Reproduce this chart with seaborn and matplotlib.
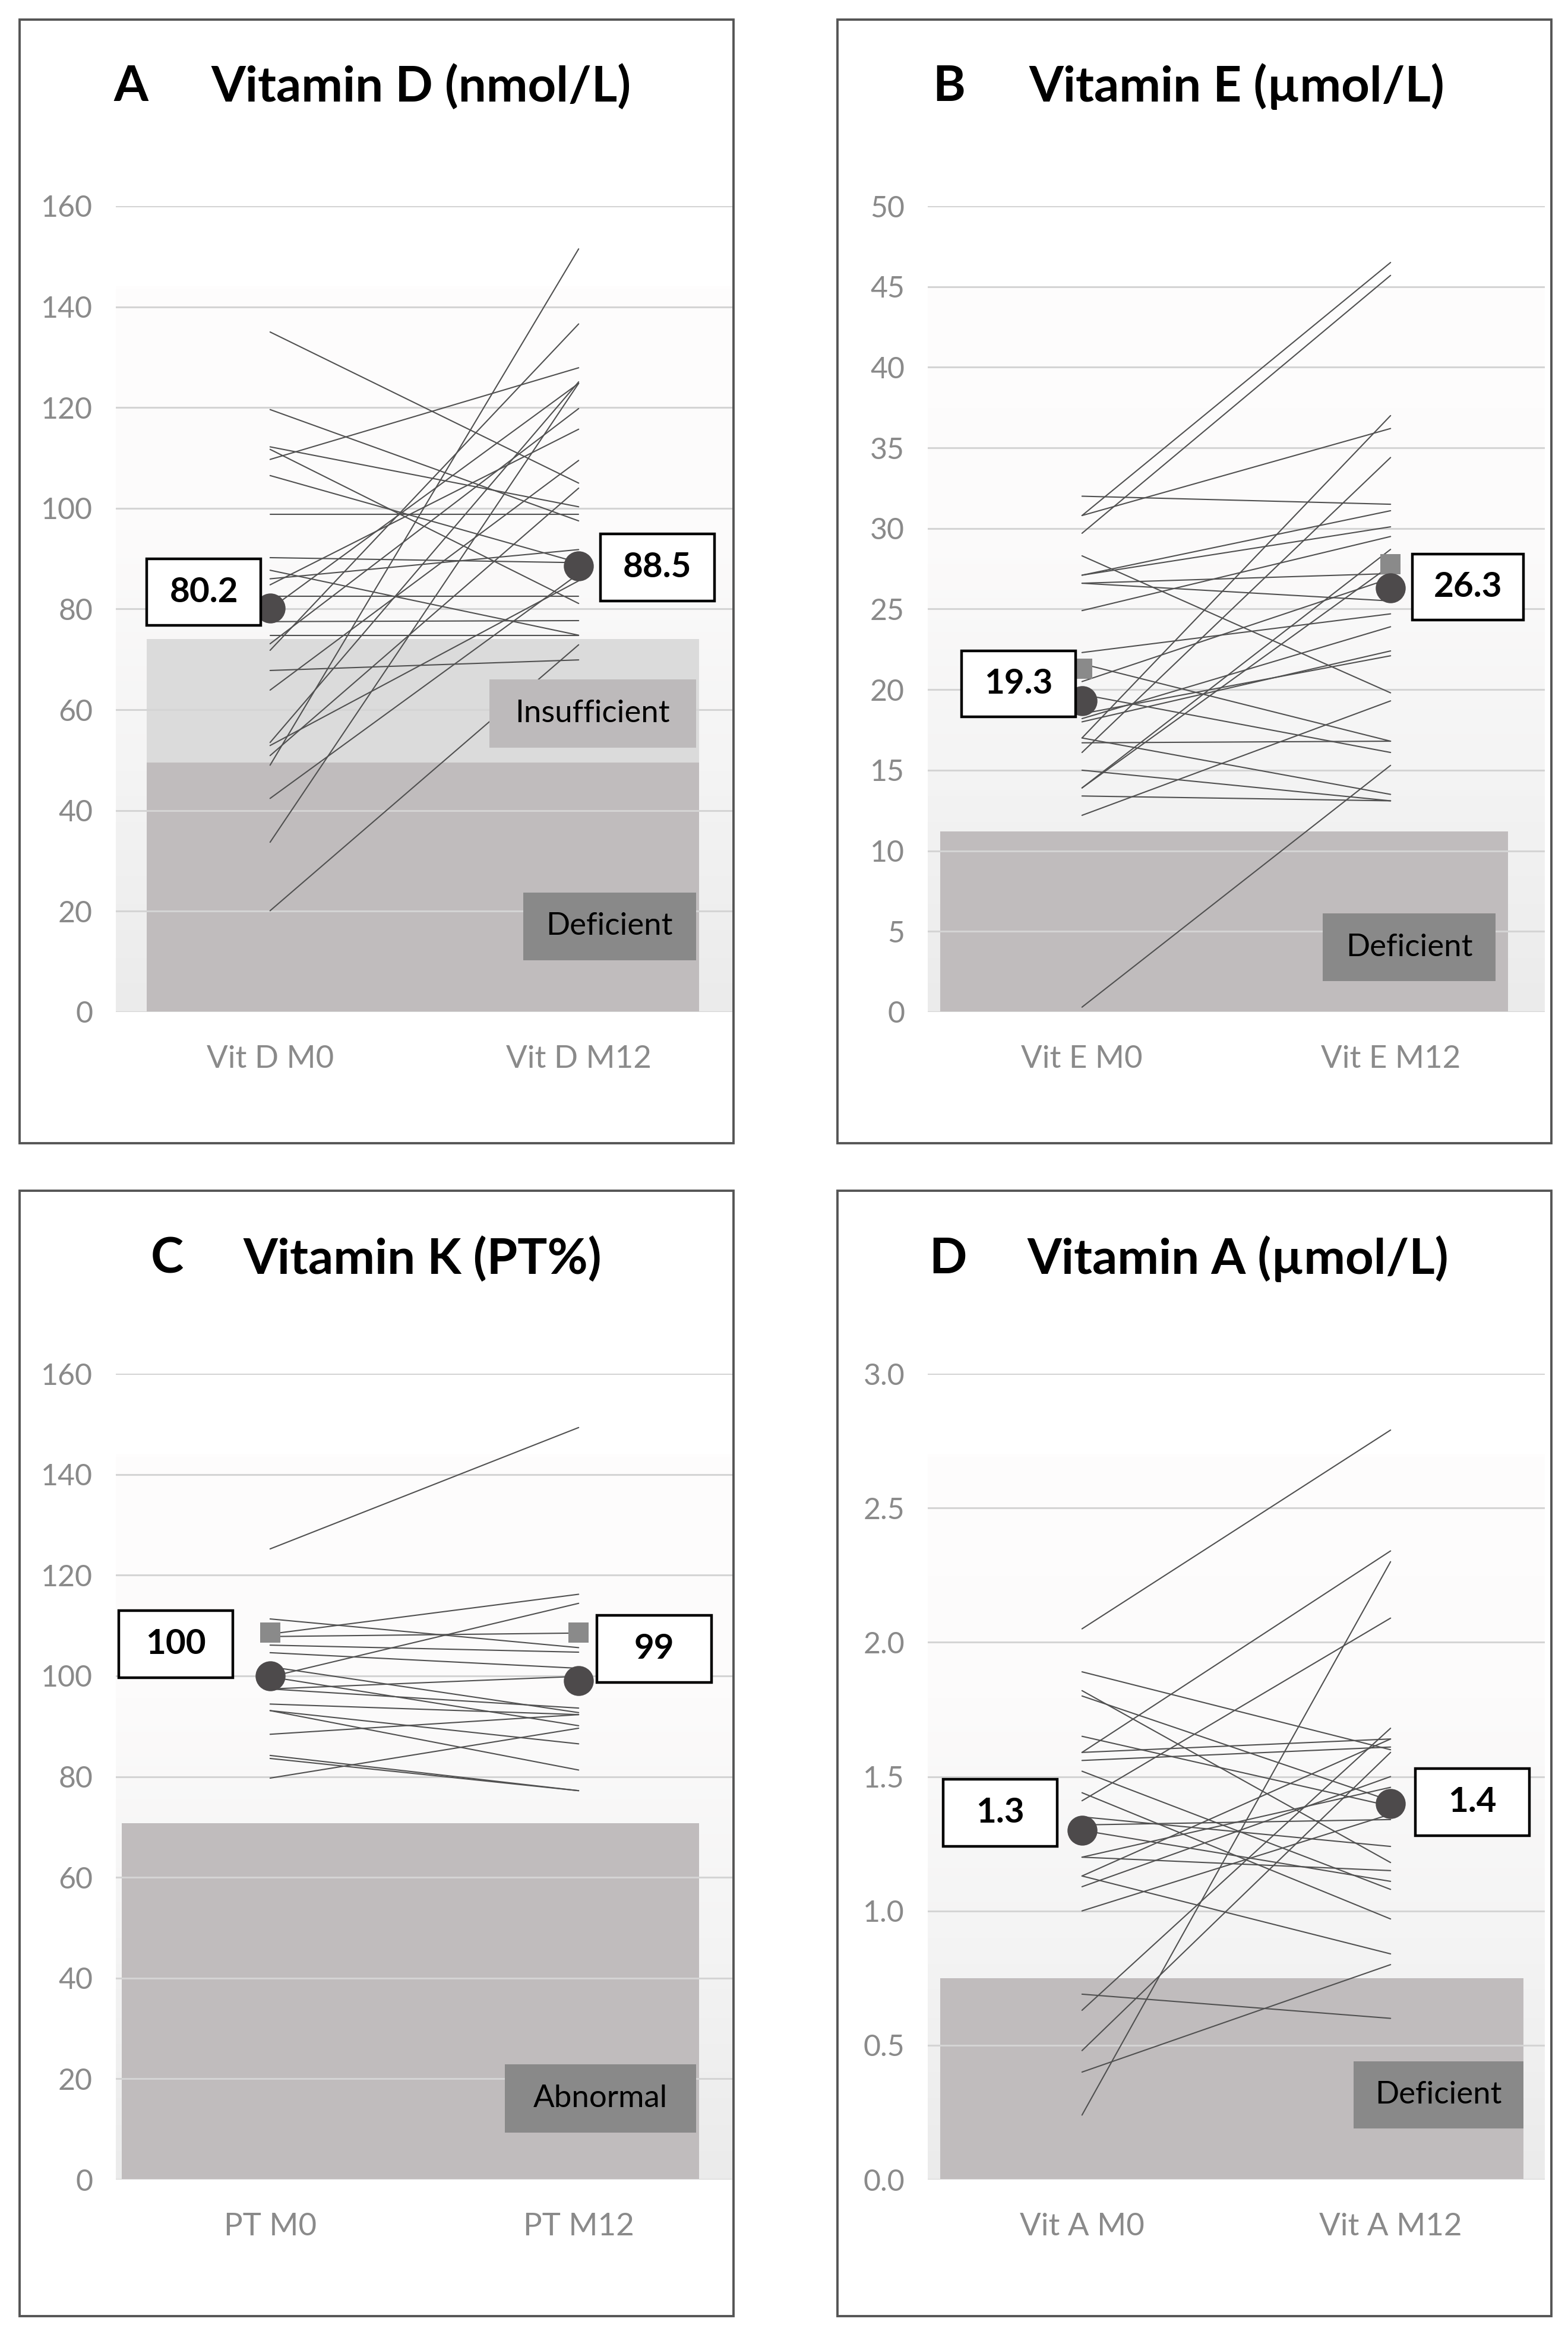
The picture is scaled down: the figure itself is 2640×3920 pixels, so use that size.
import numpy as np
import pandas as pd
import seaborn as sns
import matplotlib.pyplot as plt
from matplotlib.patches import Rectangle
from matplotlib.colors import LinearSegmentedColormap

sns.set_theme(style="white")
plt.rcParams['font.family'] = ['Lato', 'DejaVu Sans']

# ---- data ----
vitd_m0 = [135.0, 119.6, 112.2, 111.7, 109.7, 106.5, 98.8, 90.2, 87.7, 86.0, 84.8, 82.5, 80.0,
           77.5, 74.8, 73.1, 71.8, 67.8, 63.9, 53.5, 52.9, 50.9, 49.0, 42.4, 33.7, 20.1]
vitd_m12 = [105.0, 97.5, 100.3, 81.1, 127.9, 89.2, 98.8, 89.2, 74.8, 91.8, 115.7, 82.5, 124.8,
            77.7, 74.8, 119.8, 136.6, 69.9, 109.5, 125.1, 85.6, 104.0, 151.5, 87.0, 124.8, 72.9]

vite_m0 = [30.8, 29.7, 30.8, 32.0, 28.3, 27.1, 27.1, 26.6, 26.6, 24.9, 22.3, 21.6, 19.7, 18.5,
           18.0, 17.0, 17.0, 16.7, 16.1, 15.0, 13.9, 13.9, 13.4, 12.2, 0.3, 20.5, 18.2]
vite_m12 = [46.5, 45.7, 36.2, 31.5, 19.8, 30.1, 31.1, 25.5, 27.2, 29.5, 24.7, 16.8, 16.1, 22.1,
            22.4, 37.0, 13.5, 16.8, 34.4, 13.1, 28.7, 27.7, 13.1, 19.3, 15.3, 26.9, 23.9]

pt_m0 = [125.2, 111.3, 108.3, 107.8, 106.1, 104.6, 101.8, 99.8, 99.8, 97.4, 97.4, 94.4, 93.1,
         93.1, 88.4, 84.2, 83.6, 79.7]
pt_m12 = [149.3, 105.6, 116.2, 108.5, 104.7, 101.5, 92.7, 114.4, 90.1, 99.9, 93.6, 92.3, 81.3,
          86.5, 92.3, 77.2, 77.2, 89.6]

vita_m0 = [2.05, 1.89, 1.82, 1.80, 1.65, 1.59, 1.59, 1.56, 1.52, 1.44, 1.41, 1.35, 1.32, 1.30,
           1.20, 1.20, 1.13, 1.13, 1.09, 1.00, 0.69, 0.63, 0.48, 0.40, 0.24]
vita_m12 = [2.79, 1.60, 1.18, 1.41, 1.39, 2.34, 1.64, 1.61, 1.08, 0.97, 2.09, 1.24, 1.34, 1.11,
            1.15, 1.46, 1.64, 0.84, 1.50, 1.36, 0.60, 1.68, 1.59, 0.80, 2.30]

means = {'A': [80.2, 88.5], 'B': [19.3, 26.3], 'C': [100, 99], 'D': [1.3, 1.4]}
mean_labels = {'A': ['80.2', '88.5'], 'B': ['19.3', '26.3'], 'C': ['100', '99'], 'D': ['1.3', '1.4']}
medians = {'B': [21.3, 27.8], 'C': [108.6, 108.6]}

categories = {'A': ['Vit D M0', 'Vit D M12'], 'B': ['Vit E M0', 'Vit E M12'],
              'C': ['PT M0', 'PT M12'], 'D': ['Vit A M0', 'Vit A M12']}
titles = {'A': 'Vitamin D (nmol/L)', 'B': 'Vitamin E (µmol/L)',
          'C': 'Vitamin K (PT%)', 'D': 'Vitamin A (µmol/L)'}
yticks = {'A': np.arange(0, 161, 20), 'B': np.arange(0, 51, 5),
          'C': np.arange(0, 161, 20), 'D': np.arange(0, 3.01, 0.5)}
# reference ranges: (label, upper value)
ranges = {'A': [('Insufficient', 74.0), ('Deficient', 49.5)], 'B': [('Deficient', 11.2)],
          'C': [('Abnormal', 70.8)], 'D': [('Deficient', 0.75)]}
series = {'A': (vitd_m0, vitd_m12), 'B': (vite_m0, vite_m12),
          'C': (pt_m0, pt_m12), 'D': (vita_m0, vita_m12)}

# ---- layout (pixels of 2640x3920 canvas) ----
W, H = 2640, 3920
fig = plt.figure(figsize=(13.2, 19.6), dpi=200)

ax_pos = {'A': (195, 347), 'B': (1562, 347), 'C': (195, 2313), 'D': (1562, 2313)}
ax_w, ax_h = 1039, 1357
border = {'A': (33, 33, 1235, 1925), 'B': (1410, 33, 2612, 1925),
          'C': (33, 2005, 1235, 3900), 'D': (1410, 2005, 2612, 3900)}
title_pos = {'A': (220, 355, 146), 'B': (1598, 1732, 146),
             'C': (281, 409, 2120), 'D': (1596, 1729, 2120)}
band_x = {'A': (-0.40, 1.39), 'B': (-0.46, 1.38), 'C': (-0.48, 1.39), 'D': (-0.46, 1.43)}
# label boxes in data coords: (x0, x1, y0, y1)
range_box = {'A': [(0.71, 1.38, 52.5, 66.0), (0.82, 1.38, 10.3, 23.7)],
             'B': [(0.78, 1.34, 1.9, 6.1)],
             'C': [(0.76, 1.38, 9.3, 22.9)],
             'D': [(0.88, 1.43, 0.19, 0.44)]}
mean_box = {'A': [(-0.40, -0.03, 76.7, 90.0), (1.07, 1.44, 81.6, 94.9)],
            'B': [(-0.39, -0.02, 18.3, 22.4), (1.07, 1.43, 24.3, 28.4)],
            'C': [(-0.49, -0.12, 99.6, 112.9), (1.06, 1.43, 98.7, 112.0)],
            'D': [(-0.45, -0.08, 1.24, 1.49), (1.08, 1.45, 1.28, 1.53)]}
range_colors = {'Insufficient': ('#dbdbdb', '#bdbabb'), 'Deficient': ('#c0bcbd', '#898989'),
                'Abnormal': ('#c0bcbd', '#898989')}

grad_cmap = LinearSegmentedColormap.from_list('bg', ['#ebebeb', '#f4f4f4', '#fcfbfb', '#fefdfd'])

for key in ['A', 'B', 'C', 'D']:
    x0, ytop = ax_pos[key]
    ax = fig.add_axes([x0 / W, 1 - (ytop + ax_h) / H, ax_w / W, ax_h / H])
    ymax = yticks[key][-1]

    # gradient plot-area background
    grad = np.linspace(0, 1, 256).reshape(-1, 1)
    ax.imshow(grad, extent=(-0.5, 1.5, 0, 0.9 * ymax), origin='lower', aspect='auto',
              cmap=grad_cmap, zorder=0)

    # reference range bands
    bx0, bx1 = band_x[key]
    for (name, upper) in ranges[key]:
        ax.fill_between([bx0, bx1], 0, upper, color=range_colors[name][0], lw=0, zorder=1)
    for (name, upper), (rx0, rx1, ry0, ry1) in zip(ranges[key], range_box[key]):
        ax.add_patch(Rectangle((rx0, ry0), rx1 - rx0, ry1 - ry0, fc=range_colors[name][1],
                               ec='none', zorder=4))
        ax.text((rx0 + rx1) / 2, (ry0 + ry1) / 2, name, ha='center', va='center',
                fontsize=19, color='black', zorder=5)

    # individual patient lines
    m0, m12 = series[key]
    df = pd.DataFrame({
        'subject': list(range(len(m0))) * 2,
        'visit': [categories[key][0]] * len(m0) + [categories[key][1]] * len(m12),
        'value': list(m0) + list(m12),
    })
    sns.lineplot(data=df, x='visit', y='value', units='subject', estimator=None,
                 color='#505050', lw=0.75, ax=ax, zorder=3)

    # medians (squares) and means (circles)
    if key in medians:
        ax.scatter([0, 1], medians[key], marker='s', s=150, color='#8a8a8a', zorder=6,
                   linewidths=0)
    ax.scatter([0, 1], means[key], marker='o', s=330, color='#4d4a4b', zorder=7,
               linewidths=0)
    for (mx0, mx1, my0, my1), lab in zip(mean_box[key], mean_labels[key]):
        ax.add_patch(Rectangle((mx0, my0), mx1 - mx0, my1 - my0, fc='white', ec='black',
                               lw=1.6, zorder=8))
        ax.text((mx0 + mx1) / 2, (my0 + my1) / 2, lab, ha='center', va='center',
                fontsize=21, fontweight='bold', color='black', zorder=9)

    ax.set_xlim(-0.5, 1.5)
    ax.set_ylim(0, ymax)
    ax.set_yticks(yticks[key])
    if key == 'D':
        ax.set_yticklabels([f'{v:.1f}' for v in yticks[key]])
    else:
        ax.set_yticklabels([f'{v:g}' for v in yticks[key]])
    ax.set_xticks([0, 1])
    ax.set_xticklabels(categories[key])
    ax.tick_params(axis='y', length=0, pad=14, labelsize=18, labelcolor='#8a8a8a')
    ax.tick_params(axis='x', length=0, pad=20, labelsize=19, labelcolor='#8a8a8a')
    ax.set_xlabel('')
    ax.set_ylabel('')
    ax.grid(axis='y', color='#d4d4d4', lw=1.1)
    ax.grid(axis='x', visible=False)
    ax.set_axisbelow('line')
    for s in ax.spines.values():
        s.set_visible(False)
    ax.patch.set_alpha(0)
    if ax.get_legend() is not None:
        ax.get_legend().remove()

    # panel border and title
    bx_l, by_t, bx_r, by_b = border[key]
    fig.add_artist(Rectangle((bx_l / W, 1 - by_b / H), (bx_r - bx_l) / W, (by_b - by_t) / H,
                             transform=fig.transFigure, fill=False, ec='#555555', lw=1.4))
    lx, tx, ty = title_pos[key]
    fig.text(lx / W, 1 - ty / H, key, ha='center', va='center', fontsize=30,
             fontweight='bold', color='black')
    fig.text(tx / W, 1 - ty / H, titles[key], ha='left', va='center', fontsize=30,
             fontweight='bold', color='black')

fig.savefig('out.png', dpi=200, facecolor='white')
